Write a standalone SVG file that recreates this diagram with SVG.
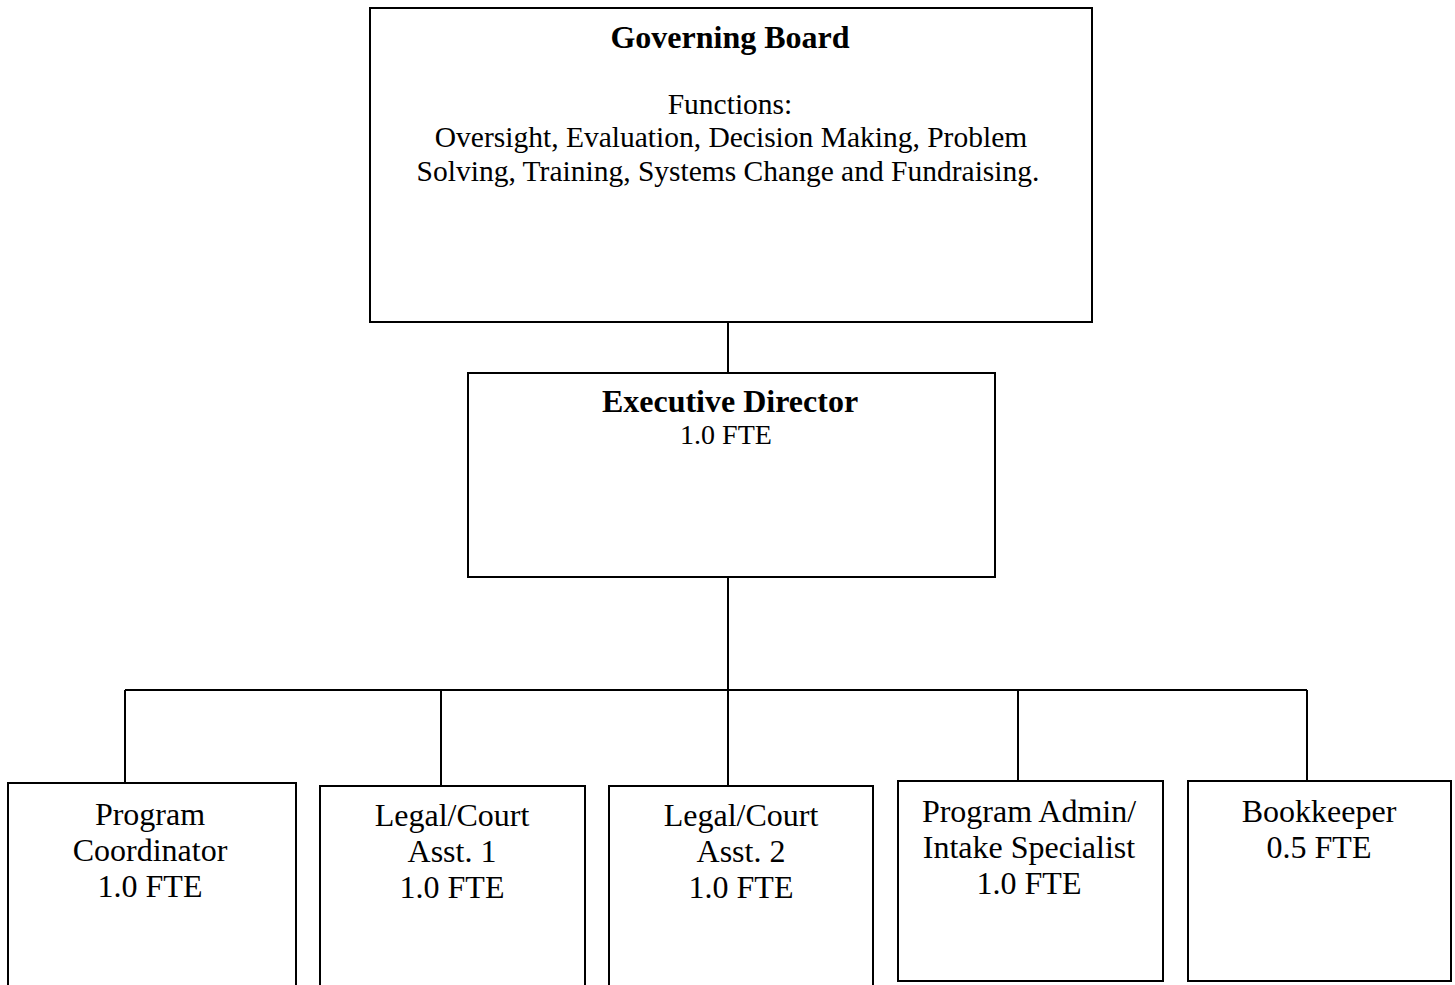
<svg xmlns="http://www.w3.org/2000/svg" width="1455" height="985" viewBox="0 0 1455 985">
<style>
.box{fill:#fff;stroke:#000;stroke-width:2}
.ln{fill:none;stroke:#000;stroke-width:2}
text{font-family:"Liberation Serif","Times New Roman",serif;fill:#000;text-anchor:middle}
.h{font-weight:bold;font-size:32px}
.t{font-size:29.5px}
.s{font-size:28px}
.b{font-size:32px}
</style>
<rect width="1455" height="985" fill="#fff"/>
<g id="connectors">
<path class="ln" d="M728 322V373"/>
<path class="ln" d="M728 577V690"/>
<path class="ln" d="M125 690H1307"/>
<path class="ln" d="M125 690V783"/>
<path class="ln" d="M441 690V786"/>
<path class="ln" d="M728 690V786"/>
<path class="ln" d="M1018 690V781"/>
<path class="ln" d="M1307 690V781"/>
</g>
<g id="governing-board">
<rect class="box" x="370" y="8" width="722" height="314"/>
<text class="h" x="730" y="48">Governing Board</text>
<text class="t" x="730" y="114">Functions:</text>
<text class="t" x="731" y="147">Oversight, Evaluation, Decision Making, Problem</text>
<text class="t" x="728" y="181">Solving, Training, Systems Change and Fundraising.</text>
</g>
<g id="executive-director">
<rect class="box" x="468" y="373" width="527" height="204"/>
<text class="h" x="730" y="412">Executive Director</text>
<text class="s" x="726" y="444">1.0 FTE</text>
</g>
<g id="program-coordinator">
<path class="box" d="M8 990V783H296V990"/>
<text class="b" x="150" y="825">Program</text>
<text class="b" x="150" y="861">Coordinator</text>
<text class="b" x="150" y="897">1.0 FTE</text>
</g>
<g id="legal-court-1">
<path class="box" d="M320 990V786H585V990"/>
<text class="b" x="452" y="826">Legal/Court</text>
<text class="b" x="452" y="862">Asst. 1</text>
<text class="b" x="452" y="898">1.0 FTE</text>
</g>
<g id="legal-court-2">
<path class="box" d="M609 990V786H873V990"/>
<text class="b" x="741" y="826">Legal/Court</text>
<text class="b" x="741" y="862">Asst. 2</text>
<text class="b" x="741" y="898">1.0 FTE</text>
</g>
<g id="program-admin">
<rect class="box" x="898" y="781" width="265" height="200"/>
<text class="b" x="1029" y="822">Program Admin/</text>
<text class="b" x="1029" y="858">Intake Specialist</text>
<text class="b" x="1029" y="894">1.0 FTE</text>
</g>
<g id="bookkeeper">
<rect class="box" x="1188" y="781" width="263" height="200"/>
<text class="b" x="1319" y="822">Bookkeeper</text>
<text class="b" x="1319" y="858">0.5 FTE</text>
</g>
</svg>
